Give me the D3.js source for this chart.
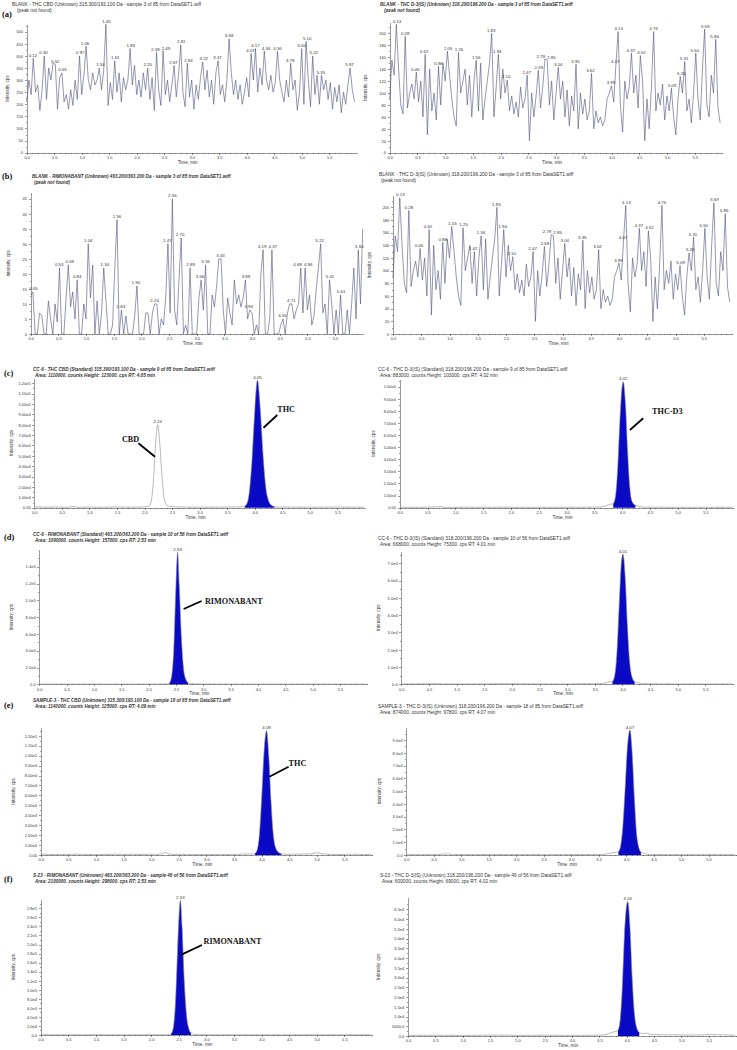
<!DOCTYPE html>
<html>
<head>
<meta charset="utf-8">
<style>
  body { margin: 0; background: #fff; }
  svg text { font-family: Arial, "Liberation Sans", sans-serif; }
  .head { font-size: 4.8px; fill: #333; }
  .head.it { font-style: italic; font-weight: bold; font-size: 4.6px; }
  .letter { font-family: "Liberation Serif", "Times New Roman", serif !important; font-weight: bold; font-size: 8.5px; fill: #111; }
  .note { font-family: "Liberation Serif", "Times New Roman", serif !important; font-weight: bold; font-size: 8.2px; fill: #111; }
  .axis text { font-size: 4px; fill: #333; }
  .axis path, .axis line { stroke: #333; stroke-width: 0.5; shape-rendering: crispEdges; }
  .title { font-size: 4.6px; fill: #333; }
  .plab { font-size: 4.4px; fill: #333; }
</style>
</head>
<body>
<div id="chart"></div>
<script src="https://cdn.jsdelivr.net/npm/d3@7"></script>
<script>
// blank injections: one reading every 0.04 min from 0.00 min
var blankStep = 0.04;

var blankThcCbd = [210,300,240,390,250,280,175,260,400,220, 350,300,370,365,180,310,330,210,240,180,
  260,195,300,220,400,240,320,440,300,260, 330,280,300,350,260,340,530,195,290,220,
  380,250,330,210,310,260,300,430,280,360, 240,300,230,330,260,350,220,310,175,415,
  260,195,420,240,300,210,280,360,230,320, 445,250,190,370,230,300,180,280,220,310,
  375,260,340,230,300,200,330,380,240,280, 210,300,470,330,240,300,220,280,200,250,
  310,230,410,300,430,250,350,280,420,300, 260,320,250,290,420,300,250,210,300,230,
  370,260,300,175,250,430,200,460,300,190, 400,240,320,200,320,260,300,220,290,180,
  270,210,280,165,250,200,280,350,260,210];

var blankThcD3 = [90,155,130,215,140,80,65,195,75,100, 115,90,135,85,120,60,165,30,140,70,
  100,55,145,80,150,120,170,130,90,60, 45,168,100,120,140,80,130,60,120,155,
  70,150,55,90,120,150,200,60,110,165, 90,140,100,122,70,95,65,85,60,110,
  75,90,130,20,100,60,95,138,75,110, 157,155,80,120,55,100,143,90,120,60,
  105,45,95,70,148,40,100,65,90,55, 70,133,40,70,50,60,45,55,90,100,
  112,85,148,203,80,35,120,90,110,167, 100,130,75,163,120,20,90,40,110,203,
  70,100,80,115,55,95,70,108,60,30, 90,128,100,153,70,90,50,100,167,90,
  55,140,207,80,60,130,100,190,75,50];

var blankRimo = [13,14,0,0,7,6,0,0,11,5, 0,10,4,22,0,0,12,23,9,14,
  5,18,0,0,10,5,30,12,23,0, 11,0,7,22,11,0,0,3,22,38,
  0,8,0,6,0,0,0,6,16,0, 0,0,7,7,0,7,10,10,0,5,
  3,12,30,7,45,8,3,18,32,0, 3,0,22,0,0,0,12,18,8,23,
  0,0,13,9,16,25,25,8,0,12, 7,3,18,10,13,9,12,18,5,8,
  7,0,3,0,20,28,0,0,5,28, 0,0,0,3,5,0,7,10,10,5,
  8,10,22,7,22,8,13,3,6,15, 22,30,7,10,0,18,10,0,8,0,
  13,0,0,8,0,10,22,5,28,10, 35];

// standards and samples: [time (min), intensity (cps)]
var ccThcCbd = [[0,600],[0.1,900],[0.2,500],[0.4,700],[0.6,400],[0.7,1100],[0.8,500],[1.0,600],[1.2,400],[1.5,700],[1.8,500],[2.0,800],
  [2.08,1600],[2.12,6000],[2.16,25000],[2.20,60000],[2.24,80000],[2.28,60000],[2.32,28000],[2.36,8000],[2.40,2500],[2.46,1200],
  [2.6,700],[3.0,500],[3.4,600],[3.7,700],[3.82,1500],[3.86,4000],[3.90,14000],[3.95,45000],[4.00,92000],[4.05,123000],
  [4.10,96000],[4.15,52000],[4.20,20000],[4.25,7000],[4.30,2500],[4.36,1000],[4.5,600],[5.0,500],[5.5,600],[5.98,500]];
var ccThcD3 = [[0,300],[0.5,400],[0.75,900],[0.8,300],[1.5,400],[2.5,300],[3.5,400],[3.65,800],[3.72,1800],[3.78,2800],[3.84,3200],
  [3.88,9000],[3.92,32000],[3.96,72000],[4.00,100000],[4.02,104000],[4.06,86000],[4.10,46000],[4.14,16000],[4.18,5000],
  [4.24,2000],[4.32,900],[4.45,400],[5.0,300],[5.98,300]];
var ccRimo = [[0,300],[0.5,200],[1.0,300],[1.5,200],[2.0,300],[2.34,400],[2.38,1500],[2.42,9000],[2.46,42000],[2.50,118000],
  [2.53,157000],[2.56,118000],[2.60,55000],[2.64,18000],[2.68,6000],[2.72,2000],[2.78,700],[3.0,300],[4.0,200],[5.0,300],[5.98,200]];
var ccThcD3b = [[0,200],[0.5,300],[1.0,200],[2.0,300],[3.0,200],[3.6,400],[3.7,900],[3.76,1500],[3.82,1600],[3.86,5000],[3.90,18000],
  [3.94,45000],[3.98,70000],[4.01,75300],[4.05,62000],[4.09,34000],[4.13,13000],[4.17,4500],[4.22,1500],[4.30,700],[4.45,300],
  [5.0,200],[5.98,200]];
var smpThcCbd = [[0,500],[0.08,900],[0.14,500],[0.4,400],[0.68,900],[0.74,400],[1.0,500],[1.45,800],[1.5,400],[1.6,700],[1.9,600],
  [2.0,800],[2.1,500],[2.2,1500],[2.26,2500],[2.32,1200],[2.45,500],[2.5,800],[2.6,400],[3.0,500],[3.5,600],[3.7,1000],[3.8,900],
  [3.88,1500],[3.92,5000],[3.96,20000],[4.00,55000],[4.05,108000],[4.09,125000],[4.13,100000],[4.17,55000],[4.21,22000],
  [4.25,8000],[4.30,3000],[4.36,1200],[4.5,800],[4.9,1200],[5.0,2200],[5.08,1500],[5.2,700],[5.5,500],[5.6,900],[5.65,500],
  [5.72,900],[5.8,400],[5.98,500]];
var smpThcD3 = [[0,300],[0.5,300],[0.76,900],[0.82,300],[1.5,400],[2.5,300],[3.5,400],[3.65,800],[3.72,1500],[3.80,1900],[3.86,2500],
  [3.90,7000],[3.94,22000],[3.98,50000],[4.02,82000],[4.07,97800],[4.11,80000],[4.15,45000],[4.19,17000],[4.23,6000],[4.27,2200],
  [4.35,1000],[4.45,400],[5.0,300],[5.98,300]];
var s23Rimo = [[0,500],[0.5,400],[1.0,500],[1.5,400],[2.0,500],[2.3,600],[2.36,2500],[2.40,15000],[2.44,70000],[2.48,190000],
  [2.53,298000],[2.56,240000],[2.60,120000],[2.64,45000],[2.68,15000],[2.72,5000],[2.78,1500],[2.9,600],[3.5,500],[4.5,400],[5.98,500]];
var s23ThcD3 = [[0,300],[0.5,400],[1.0,300],[1.8,500],[2.0,300],[2.5,400],[3.0,300],[3.5,400],[3.65,1000],[3.72,1800],[3.78,2200],
  [3.84,2800],[3.88,8000],[3.92,25000],[3.96,52000],[4.02,69000],[4.06,56000],[4.10,30000],[4.14,12000],[4.18,4500],[4.23,1800],
  [4.3,1200],[4.36,1500],[4.45,700],[4.8,600],[5.2,500],[5.6,700],[5.98,400]];

// retention time labels
var labelsA1 = ['0.12','0.30','0.52','0.65','0.97','1.06','1.34','1.45','1.61','1.89','2.20','2.38','2.49','2.67','2.81','2.94',
  '3.22','3.47','3.68','4.07','4.17','4.34','4.56','4.79','5.00','5.10','5.22','5.35','5.87'];
var labelsA2 = ['0.13','0.28','0.46','0.62','0.88','1.05','1.25','1.56','1.83','1.94','2.10','2.47','2.69','2.79','2.85','3.04',
  '3.35','3.62','3.99','4.07','4.13','4.37','4.52','4.76','5.09','5.26','5.31','5.50','5.69','5.86'];
var labelsB2 = labelsA2.concat(['1.42']);
var labelsB1 = ['0.05','0.53','0.69','0.84','1.04','1.34','1.56','1.63','1.90','2.24','2.47','2.56','2.70','2.89','3.06','3.16',
  '3.43','3.89','3.94','4.19','4.37','4.55','4.71','4.88','4.96','5.22','5.41','5.61','5.94'];

// tick values
var xTicks = [0,0.5,1,1.5,2,2.5,3,3.5,4,4.5,5,5.5];
var yTicksA1 = [0,50,100,150,200,250,300,350,400,450,500];
var yTicksD3 = [0,20,40,60,80,100,120,140,160,180,200];
var yTicksB1 = [0,5,10,15,20,25,30,35,40,45];
var yTicksC1 = [0,1e4,2e4,3e4,4e4,5e4,6e4,7e4,8e4,9e4,1e5,1.1e5,1.2e5];
var yTicksC2 = [0,1e4,2e4,3e4,4e4,5e4,6e4,7e4,8e4,9e4,1e5];
var yTicksD1 = [0,2e4,4e4,6e4,8e4,1e5,1.2e5,1.4e5];
var yTicksD2 = [0,1e4,2e4,3e4,4e4,5e4,6e4,7e4];
var yTicksE2 = [0,1e4,2e4,3e4,4e4,5e4,6e4,7e4,8e4,9e4];
var yTicksF1 = [0,2e4,4e4,6e4,8e4,1e5,1.2e5,1.4e5,1.6e5,1.8e5,2e5,2.2e5,2.4e5,2.6e5,2.8e5];
var yTicksF2 = [0,5000,1e4,1.5e4,2e4,2.5e4,3e4,3.5e4,4e4,4.5e4,5e4,5.5e4,6e4,6.5e4];

function sciFmt(digits) {
  return function(v) {
    if (v === 0) return (0).toFixed(digits);
    if (v < 1e4) return v.toFixed(1);
    var e = Math.floor(Math.log10(v) + 1e-9);
    return (v / Math.pow(10, e)).toFixed(digits) + 'e' + e;
  };
}
function blankPts(vals) {
  return vals.map(function(v, i) { return [i * blankStep, v]; });
}

var panels = [
  {letter:'(a)', lx:2, ly:17, hx:12, hy:5.5, ind:5, it:false,
   head:['BLANK - THC CBD (Unknown) 315.300/193.100 Da - sample 3 of 85 from DataSET1.wiff','(peak not found)'],
   pts:blankPts(blankThcCbd), kind:'noise', labels:labelsA1,
   x0:26.7, x1:356.7, y0:152.7, y1:24.4, yMax:530, yTicks:yTicksA1, fmt:d3.format('d'), ytx:8.5},
  {hx:380, hy:5.5, ind:4, it:true,
   head:['BLANK - THC D-3(IS) (Unknown) 318.200/196.200 Da - sample 3 of 85 from DataSET1.wiff','(peak not found)'],
   pts:blankPts(blankThcD3), kind:'noise', labels:labelsA2,
   x0:389.7, x1:722.4, y0:152.7, y1:22.6, yMax:218, yTicks:yTicksD3, fmt:d3.format('d'), ytx:367},
  {letter:'(b)', lx:2, ly:179, hx:32, hy:177.5, ind:2, it:true,
   head:['BLANK - RIMONABANT (Unknown) 463.200/363.200 Da - sample 3 of 85 from DataSET1.wiff','(peak not found)'],
   pts:blankPts(blankRimo), kind:'noise', labels:labelsB1,
   x0:30.7, x1:362.7, y0:334, y1:192.7, yMax:47, yTicks:yTicksB1, fmt:d3.format('d'), ytx:10},
  {hx:379, hy:175.5, ind:2, it:false,
   head:['BLANK - THC D-3(IS) (Unknown) 318.200/196.200 Da - sample 3 of 85 from DataSET1.wiff','(peak not found)'],
   pts:blankPts(blankThcD3), kind:'noise', labels:labelsB2,
   x0:393, x1:732, y0:334, y1:195.9, yMax:218, yTicks:yTicksD3, fmt:d3.format('d'), ytx:371},
  {letter:'(c)', lx:4, ly:376, hx:33, hy:370.5, ind:2, it:true,
   head:['CC-6 - THC CBD (Standard) 315.300/193.100 Da - sample 9 of 85 from DataSET1.wiff','Area: 1110000. counts  Height: 123000. cps  RT: 4.05 min'],
   pts:ccThcCbd, kind:'peak', fill:[3.82,4.36], labels:['2.24','4.05'],
   x0:34.3, x1:364.9, y0:507.7, y1:378.1, yMax:1.25e5, yTicks:yTicksC1, fmt:sciFmt(2), ytx:13.3,
   notes:[{text:'CBD', t:1.59, v:63600, from:[1.89,62100], to:[2.19,49200]},
          {text:'THC', t:4.41, v:92600, from:[4.41,89400], to:[4.16,77100]}]},
  {hx:378, hy:371, ind:2, it:false,
   head:['CC-6 - THC D-3(IS) (Standard) 318.200/196.200 Da - sample 9 of 85 from DataSET1.wiff','Area: 883000. counts  Height: 103000. cps  RT: 4.02 min'],
   pts:ccThcD3, kind:'peak', fill:[3.84,4.24], labels:['4.02'],
   x0:399.7, x1:733.3, y0:507.7, y1:379.4, yMax:1.06e5, yTicks:yTicksC2, fmt:sciFmt(2), ytx:374.7,
   notes:[{text:'THC-D3', t:4.54, v:77400, from:[4.38,73900], to:[4.14,64200]}]},
  {letter:'(d)', lx:4, ly:540, hx:33, hy:535.5, ind:2, it:true,
   head:['CC-6 - RIMONABANT (Standard) 463.200/363.200 Da - sample 10 of 56 from DataSET1.wiff','Area: 1090000. counts  Height: 157000. cps  RT: 2.53 min'],
   pts:ccRimo, kind:'peak', fill:[2.38,2.72], labels:['2.53'],
   x0:39.3, x1:367.3, y0:684.3, y1:549.9, yMax:1.6e5, yTicks:yTicksD1, fmt:sciFmt(1), ytx:13.3,
   notes:[{text:'RIMONABANT', t:3.03, v:95600, from:[2.97,99200], to:[2.64,89600]}]},
  {hx:378, hy:539.5, ind:2, it:false,
   head:['CC-6 - THC D-3(IS) (Standard) 318.200/196.200 Da - sample 10 of 56 from DataSET1.wiff','Area: 668000. counts  Height: 75300. cps  RT: 4.01 min'],
   pts:ccThcD3b, kind:'peak', fill:[3.82,4.22], labels:['4.01'],
   x0:401.3, x1:733, y0:684.3, y1:551.2, yMax:7.7e4, yTicks:yTicksD2, fmt:sciFmt(1), ytx:379.7},
  {letter:'(e)', lx:4, ly:708, hx:33, hy:702, ind:2, it:true,
   head:['SAMPLE-3 - THC CBD (Unknown) 315.300/193.100 Da - sample 18 of 85 from DataSET1.wiff','Area: 1140000. counts  Height: 125000. cps  RT: 4.09 min'],
   pts:smpThcCbd, kind:'peak', fill:[3.88,4.36], labels:['4.09'],
   x0:40.7, x1:372, y0:855, y1:727.8, yMax:1.28e5, yTicks:yTicksC1, fmt:sciFmt(2), ytx:15,
   notes:[{text:'THC', t:4.49, v:89800, from:[4.49,88800], to:[4.14,78800]}]},
  {hx:378, hy:707.5, ind:2, it:false,
   head:['SAMPLE-3 - THC D-3(IS) (Unknown) 318.200/196.200 Da - sample 18 of 85 from DataSET1.wiff','Area: 874000. counts  Height: 97800. cps  RT: 4.07 min'],
   pts:smpThcD3, kind:'peak', fill:[3.86,4.27], labels:['4.07'],
   x0:406.3, x1:736, y0:855, y1:727.2, yMax:1.0e5, yTicks:yTicksE2, fmt:sciFmt(1), ytx:381.3},
  {letter:'(f)', lx:4, ly:882, hx:33, hy:876.5, ind:2, it:true,
   head:['S-23 - RIMONABANT (Unknown) 463.200/363.200 Da - sample 46 of 56 from DataSET1.wiff','Area: 2100000. counts  Height: 298000. cps  RT: 2.53 min'],
   pts:s23Rimo, kind:'peak', fill:[2.36,2.72], labels:['2.53'],
   x0:40.7, x1:372, y0:1035, y1:899.3, yMax:3.0e5, yTicks:yTicksF1, fmt:sciFmt(1), ytx:15,
   notes:[{text:'RIMONABANT', t:2.95, v:201000, from:[2.92,199000], to:[2.54,177000]}]},
  {hx:380, hy:877, ind:2, it:false,
   head:['S-23 - THC D-3(IS) (Unknown) 318.200/196.200 Da - sample 46 of 56 from DataSET1.wiff','Area: 600000. counts  Height: 69000. cps  RT: 4.02 min'],
   pts:s23ThcD3, kind:'peak', fill:[3.84,4.23], labels:['4.02'],
   x0:408, x1:736, y0:1036, y1:897.6, yMax:7.1e4, yTicks:yTicksF2, fmt:sciFmt(1), ytx:379.7}
];

var svg = d3.select('#chart').append('svg')
  .attr('width', 737)
  .attr('height', 1050);

panels.forEach(function(p) {
  var x = d3.scaleLinear().domain([0, 6]).range([p.x0, p.x1]);
  var y = d3.scaleLinear().domain([0, p.yMax]).range([p.y0, p.y1]);
  var g = svg.append('g');

  // header lines
  if (p.letter) {
    g.append('text').attr('class', 'letter').attr('x', p.lx).attr('y', p.ly).text(p.letter);
  }
  g.append('text').attr('class', p.it ? 'head it' : 'head').attr('x', p.hx).attr('y', p.hy).text(p.head[0]);
  g.append('text').attr('class', p.it ? 'head it' : 'head').attr('x', p.hx + p.ind).attr('y', p.hy + 6).text(p.head[1]);

  // minor ticks
  var yStep = p.yTicks[1] - p.yTicks[0];
  var yMinor = [];
  for (var v = yStep / 2; v < p.yMax; v += yStep) yMinor.push(v);
  var xMinor = [];
  for (var t = 0.1; t < 6; t += 0.1) xMinor.push(t);
  g.append('g').attr('class', 'axis').attr('transform', 'translate(0,' + p.y0 + ')')
    .call(d3.axisBottom(x).tickValues(xMinor).tickSize(1.2).tickFormat(''))
    .call(function(s) { s.select('.domain').remove(); });
  g.append('g').attr('class', 'axis').attr('transform', 'translate(' + p.x0 + ',0)')
    .call(d3.axisLeft(y).tickValues(yMinor).tickSize(1.2).tickFormat(''))
    .call(function(s) { s.select('.domain').remove(); });

  // main axes
  g.append('g').attr('class', 'axis').attr('transform', 'translate(0,' + p.y0 + ')')
    .call(d3.axisBottom(x).tickValues(xTicks).tickFormat(d3.format('.1f')).tickSize(2.2).tickSizeOuter(0).tickPadding(1.2));
  g.append('g').attr('class', 'axis').attr('transform', 'translate(' + p.x0 + ',0)')
    .call(d3.axisLeft(y).tickValues(p.yTicks).tickFormat(p.fmt).tickSize(2.2).tickSizeOuter(0).tickPadding(1.5));

  // axis titles
  g.append('text').attr('class', 'title')
    .attr('x', (p.x0 + p.x1) / 2 - 4).attr('y', p.y0 + 11)
    .attr('text-anchor', 'middle').text('Time, min');
  g.append('text').attr('class', 'title')
    .attr('transform', 'translate(' + p.ytx + ',' + ((p.y0 + p.y1) / 2) + ') rotate(-90)')
    .attr('text-anchor', 'middle').text('Intensity, cps');

  // trace
  var curve = p.kind === 'noise' ? d3.curveLinear : d3.curveMonotoneX;
  if (p.fill) {
    var inside = p.pts.filter(function(d) { return d[0] >= p.fill[0] - 1e-9 && d[0] <= p.fill[1] + 1e-9; });
    g.append('path').datum(inside)
      .attr('d', d3.area().x(function(d) { return x(d[0]); }).y0(p.y0).y1(function(d) { return y(d[1]); }).curve(curve))
      .attr('fill', '#0a0ac4');
  }
  g.append('path').datum(p.pts)
    .attr('d', d3.line().x(function(d) { return x(d[0]); }).y(function(d) { return y(d[1]); }).curve(curve))
    .attr('fill', 'none')
    .attr('stroke', p.kind === 'noise' ? '#4f537c' : '#8a8a8a')
    .attr('stroke-width', 0.6)
    .attr('stroke-linejoin', 'round');

  // retention time labels above the apex found near each time
  var win = p.kind === 'noise' ? 0.035 : 0.03;
  var labs = p.labels.map(function(lab) {
    var t = +lab;
    var near = p.pts.filter(function(d) { return Math.abs(d[0] - t) <= win; });
    var top = d3.max(near, function(d) { return d[1]; });
    return {text: lab, x: x(t), y: y(top) - 1.5};
  }).sort(function(a, b) { return a.x - b.x; });
  // push apart neighbours whose texts would collide
  var lw = 10;
  for (var i = 1; i < labs.length; i++) {
    var a = labs[i - 1], b = labs[i];
    var gap = b.x - a.x;
    if (gap < lw && Math.abs(b.y - a.y) < 4.5) {
      var d = (lw - gap) / 2 + 0.3;
      a.x -= d; b.x += d;
    }
  }
  labs.forEach(function(l) {
    g.append('text').attr('class', 'plab')
      .attr('x', l.x).attr('y', l.y)
      .attr('text-anchor', 'middle').text(l.text);
  });

  // compound annotations
  (p.notes || []).forEach(function(n) {
    g.append('line')
      .attr('x1', x(n.from[0])).attr('y1', y(n.from[1]))
      .attr('x2', x(n.to[0])).attr('y2', y(n.to[1]))
      .attr('stroke', '#000').attr('stroke-width', 1.8);
    g.append('text').attr('class', 'note').attr('x', x(n.t)).attr('y', y(n.v)).text(n.text);
  });
});
</script>
</body>
</html>
